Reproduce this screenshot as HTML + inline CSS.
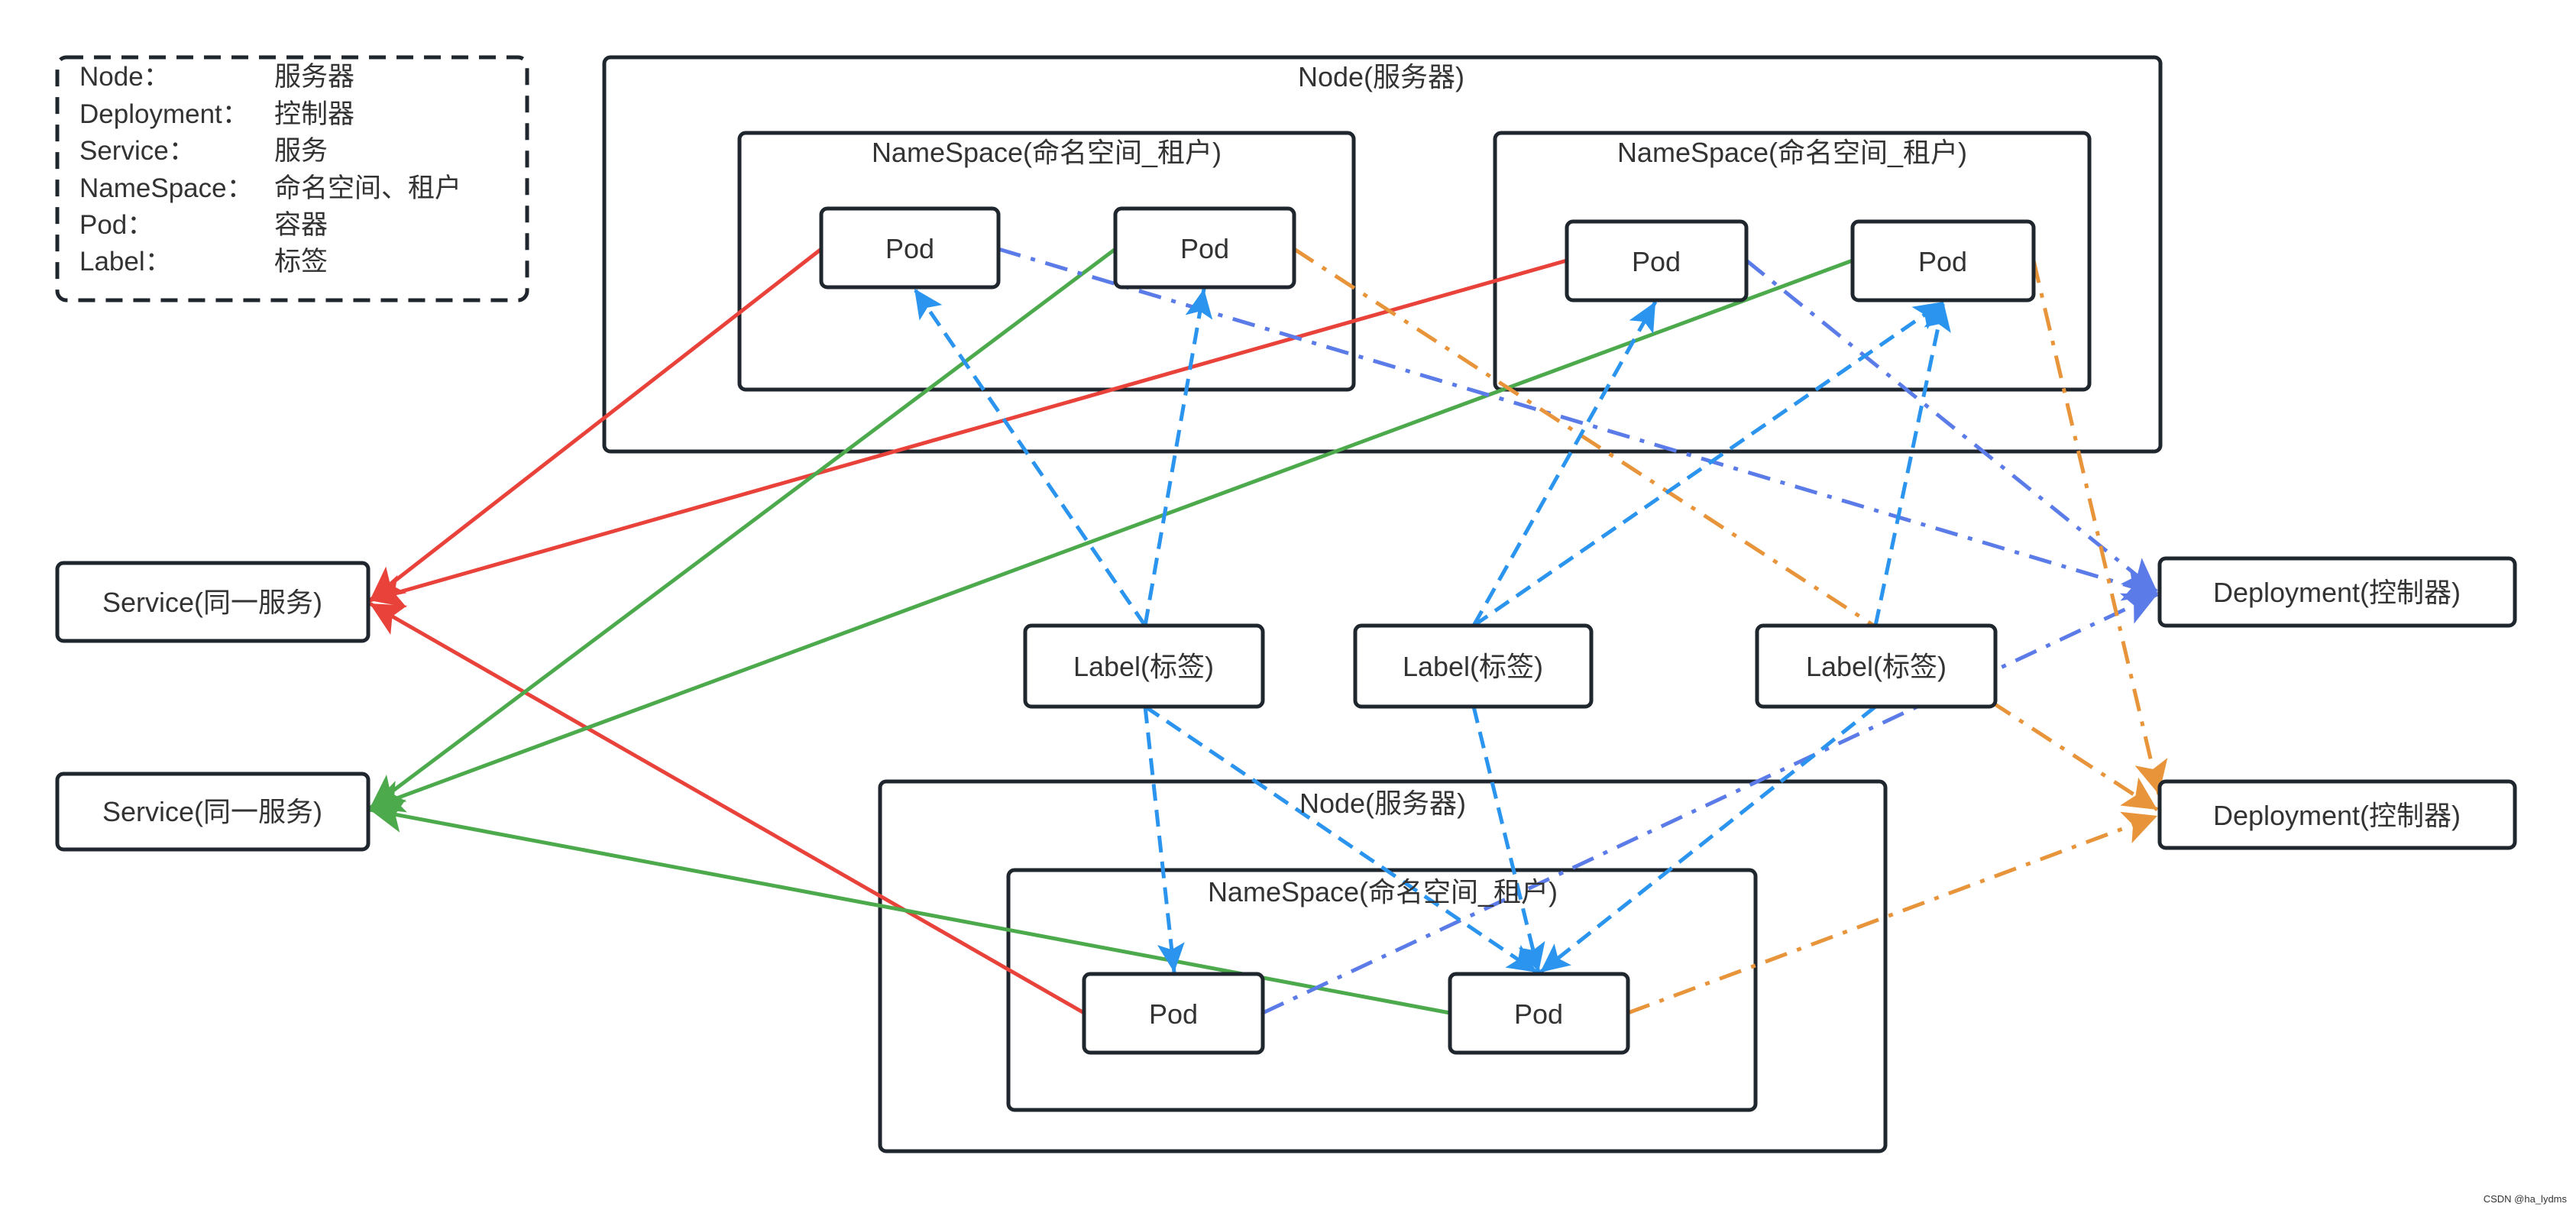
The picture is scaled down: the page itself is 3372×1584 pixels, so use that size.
<!DOCTYPE html>
<html><head><meta charset="utf-8"><style>
html,body{margin:0;padding:0;background:#fff;}
svg{display:block;}
text{font-family:"Liberation Sans","Noto Sans CJK SC",sans-serif;fill:#333;}
</style></head><body>
<svg width="3372" height="1584" viewBox="0 0 3372 1584" xmlns="http://www.w3.org/2000/svg">
<defs>
<marker id="mr" markerUnits="userSpaceOnUse" markerWidth="50" markerHeight="50" refX="44" refY="22" orient="auto"><path d="M0,0 L44,22 L0,44 L10,22 Z" fill="#e8423a"/></marker>
<marker id="mg" markerUnits="userSpaceOnUse" markerWidth="50" markerHeight="50" refX="44" refY="22" orient="auto"><path d="M0,0 L44,22 L0,44 L10,22 Z" fill="#4caa4c"/></marker>
<marker id="mp" markerUnits="userSpaceOnUse" markerWidth="50" markerHeight="50" refX="44" refY="22" orient="auto"><path d="M0,0 L44,22 L0,44 L10,22 Z" fill="#5b7be8"/></marker>
<marker id="mo" markerUnits="userSpaceOnUse" markerWidth="50" markerHeight="50" refX="44" refY="22" orient="auto"><path d="M0,0 L44,22 L0,44 L10,22 Z" fill="#e8943a"/></marker>
<marker id="mb" markerUnits="userSpaceOnUse" markerWidth="44" markerHeight="44" refX="38" refY="18" orient="auto"><path d="M0,0 L38,18 L0,36 L8,18 Z" fill="#2a94ee"/></marker>
</defs>

<g fill="#fff" stroke="#1f262e" stroke-width="5">
<rect x="75" y="75" width="615" height="318" rx="12" fill="none" stroke-dasharray="22,14"/>
<rect x="791" y="75" width="2037" height="516" rx="8"/>
<rect x="968" y="174" width="804" height="336" rx="8"/>
<rect x="1957" y="174" width="778" height="336" rx="8"/>
<rect x="1152" y="1023" width="1316" height="484" rx="8"/>
<rect x="1320" y="1139" width="978" height="314" rx="8"/>
</g>

<g fill="none" stroke-width="5">
<!-- red -->
<line x1="1075" y1="326" x2="484" y2="786" stroke="#e8423a" marker-end="url(#mr)"/>
<line x1="2051" y1="341" x2="484" y2="786" stroke="#e8423a" marker-end="url(#mr)"/>
<line x1="1419" y1="1326" x2="484" y2="790" stroke="#e8423a" marker-end="url(#mr)"/>
<!-- green -->
<line x1="1460" y1="326" x2="484" y2="1058" stroke="#4caa4c" marker-end="url(#mg)"/>
<line x1="2425" y1="341" x2="484" y2="1058" stroke="#4caa4c" marker-end="url(#mg)"/>
<line x1="1898" y1="1326" x2="484" y2="1060" stroke="#4caa4c" marker-end="url(#mg)"/>
<!-- purple dash-dot -->
<g stroke="#5b7be8" stroke-dasharray="30,14,6,14">
<line x1="1307" y1="326" x2="2824" y2="778" marker-end="url(#mp)"/>
<line x1="2286" y1="341" x2="2824" y2="775" marker-end="url(#mp)"/>
<line x1="1653" y1="1326" x2="2824" y2="778" marker-end="url(#mp)"/>
</g>
<!-- orange dash-dot -->
<g stroke="#e8943a" stroke-dasharray="30,14,6,14">
<line x1="1694" y1="326" x2="2824" y2="1060" marker-end="url(#mo)"/>
<line x1="2662" y1="341" x2="2826" y2="1040" marker-end="url(#mo)"/>
<line x1="2131" y1="1326" x2="2824" y2="1068" marker-end="url(#mo)"/>
</g>
<!-- light blue dashed -->
<g stroke="#2a94ee" stroke-dasharray="22,12">
<line x1="1499" y1="819" x2="1197" y2="378" marker-end="url(#mb)"/>
<line x1="1499" y1="819" x2="1576" y2="378" marker-end="url(#mb)"/>
<line x1="1929" y1="819" x2="2167" y2="395" marker-end="url(#mb)"/>
<line x1="1929" y1="819" x2="2544" y2="395" marker-end="url(#mb)"/>
<line x1="2455" y1="819" x2="2544" y2="395" marker-end="url(#mb)"/>
<line x1="1499" y1="925" x2="1537" y2="1273" marker-end="url(#mb)"/>
<line x1="1499" y1="925" x2="2012" y2="1273" marker-end="url(#mb)"/>
<line x1="1929" y1="925" x2="2014" y2="1273" marker-end="url(#mb)"/>
<line x1="2455" y1="925" x2="2016" y2="1273" marker-end="url(#mb)"/>
</g>
</g>

<g fill="#fff" stroke="#1f262e" stroke-width="5">
<rect x="1075" y="273" width="232" height="103" rx="8"/>
<rect x="1460" y="273" width="234" height="103" rx="8"/>
<rect x="2051" y="290" width="235" height="103" rx="8"/>
<rect x="2425" y="290" width="237" height="103" rx="8"/>
<rect x="1419" y="1275" width="234" height="103" rx="8"/>
<rect x="1898" y="1275" width="233" height="103" rx="8"/>
<rect x="75" y="737" width="407" height="102" rx="8"/>
<rect x="75" y="1013" width="407" height="99" rx="8"/>
<rect x="1342" y="819" width="311" height="106" rx="8"/>
<rect x="1774" y="819" width="309" height="106" rx="8"/>
<rect x="2300" y="819" width="312" height="106" rx="8"/>
<rect x="2827" y="731" width="465" height="88" rx="8"/>
<rect x="2827" y="1023" width="465" height="87" rx="8"/>
</g>

<g font-size="36" text-anchor="middle">
<text x="1808" y="113">Node(服务器)</text>
<text x="1370" y="212">NameSpace(命名空间_租户)</text>
<text x="2346" y="212">NameSpace(命名空间_租户)</text>
<text x="1810" y="1064">Node(服务器)</text>
<text x="1810" y="1180">NameSpace(命名空间_租户)</text>
<text x="1191" y="338">Pod</text>
<text x="1577" y="338">Pod</text>
<text x="2168" y="355">Pod</text>
<text x="2543" y="355">Pod</text>
<text x="1536" y="1340">Pod</text>
<text x="2014" y="1340">Pod</text>
<text x="278" y="801">Service(同一服务)</text>
<text x="278" y="1075">Service(同一服务)</text>
<text x="1497" y="885">Label(标签)</text>
<text x="1928" y="885">Label(标签)</text>
<text x="2456" y="885">Label(标签)</text>
<text x="3059" y="788">Deployment(控制器)</text>
<text x="3059" y="1080">Deployment(控制器)</text>
</g>
<g font-size="35">
<text x="104" y="112">Node：</text><text x="359" y="112">服务器</text>
<text x="104" y="161">Deployment：</text><text x="359" y="161">控制器</text>
<text x="104" y="209">Service：</text><text x="359" y="209">服务</text>
<text x="104" y="258">NameSpace：</text><text x="359" y="258">命名空间、租户</text>
<text x="104" y="306">Pod：</text><text x="359" y="306">容器</text>
<text x="104" y="354">Label：</text><text x="359" y="354">标签</text>
</g>
<text x="3360" y="1574" font-size="13" text-anchor="end" fill="#999">CSDN @ha_lydms</text>
</svg>
</body></html>
